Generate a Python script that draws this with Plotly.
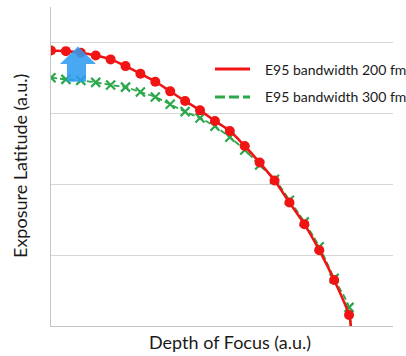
import plotly.graph_objects as go

# ---- data ----
dof = list(range(21))
el_200 = [3.887, 3.877, 3.855, 3.817, 3.761, 3.666, 3.559, 3.446, 3.310, 3.173, 3.042,
          2.892, 2.751, 2.539, 2.306, 2.052, 1.742, 1.437, 1.070, 0.648, 0.155]
el_300 = [3.503, 3.479, 3.465, 3.437, 3.399, 3.370, 3.300, 3.230, 3.127, 3.024, 2.934,
          2.817, 2.662, 2.483, 2.272, 2.070, 1.775, 1.469, 1.117, 0.672, 0.263]
# where each curve meets the x axis
end_dof_200, end_el_200 = 20.12, 0.0
end_dof_300, end_el_300 = 20.10, 0.0
names = ["E95 bandwidth 200 fm", "E95 bandwidth 300 fm"]
x_title = "Depth of Focus (a.u.)"
y_title = "Exposure Latitude (a.u.)"

RED = "#f01414"
GREEN = "#2aa84a"
FONT = "Lato"
TXT = "#1a1a1a"

fig = go.Figure()
# green (drawn first, beneath red)
fig.add_trace(go.Scatter(x=dof + [end_dof_300], y=el_300 + [end_el_300], mode="lines",
                         line=dict(color=GREEN, width=1.8, dash="6px,3px", shape="spline"),
                         showlegend=False, hoverinfo="skip"))
fig.add_trace(go.Scatter(x=dof, y=el_300, mode="markers",
                         marker=dict(symbol="x-thin", size=9, line=dict(color=GREEN, width=2.2)),
                         showlegend=False))
fig.add_trace(go.Scatter(x=dof + [end_dof_200], y=el_200 + [end_el_200], mode="lines",
                         line=dict(color=RED, width=2.6, shape="spline"),
                         showlegend=False, hoverinfo="skip"))
fig.add_trace(go.Scatter(x=dof, y=el_200, mode="markers",
                         marker=dict(symbol="circle", size=10, color=RED),
                         showlegend=False))

# blue up arrow
arrow_path = "M 1.81 3.944 L 3.02 3.697 L 2.35 3.697 L 2.35 3.444 L 1.07 3.444 L 1.07 3.697 L 0.60 3.697 Z"
fig.add_shape(type="path", path=arrow_path, xref="x", yref="y",
              fillcolor="#2f9cf0", line=dict(width=0), opacity=0.88, layer="above")

# legend (drawn manually)
fig.add_shape(type="line", xref="paper", yref="paper", x0=0.4795, x1=0.5819, y0=0.8056, y1=0.8056,
              line=dict(color=RED, width=3))
fig.add_shape(type="line", xref="paper", yref="paper", x0=0.4795, x1=0.5819, y0=0.7179, y1=0.7179,
              line=dict(color=GREEN, width=3, dash="10px,4px"))
fig.add_annotation(x=0.6199, y=0.8056, xref="paper", yref="paper", text=names[0], showarrow=False,
                   xanchor="left", yanchor="middle", font=dict(family=FONT, size=14, color=TXT))
fig.add_annotation(x=0.6199, y=0.7179, xref="paper", yref="paper", text=names[1], showarrow=False,
                   xanchor="left", yanchor="middle", font=dict(family=FONT, size=14, color=TXT))

# axis titles
fig.add_annotation(x=0.523, y=-0.050, xref="paper", yref="paper", text=x_title, showarrow=False,
                   xanchor="center", yanchor="middle", font=dict(family=FONT, size=18, color=TXT))
fig.add_annotation(x=-0.0906, y=0.5016, xref="paper", yref="paper", text=y_title, showarrow=False,
                   textangle=-90, xanchor="center", yanchor="middle",
                   font=dict(family=FONT, size=18, color=TXT))

fig.update_xaxes(range=[0, 22.95], showgrid=False, zeroline=False, showticklabels=False,
                 ticks="", showline=True, linecolor="#c4c4c4", linewidth=1.2)
fig.update_yaxes(range=[0, 4.5], dtick=1, showgrid=True, gridcolor="#d6d6d6", gridwidth=1,
                 zeroline=False, showticklabels=False, ticks="", showline=True,
                 linecolor="#c4c4c4", linewidth=1.2)
fig.update_layout(width=406, height=356, margin=dict(l=51, r=13, t=7, b=30),
                  paper_bgcolor="white", plot_bgcolor="white", showlegend=False)
fig.write_html("out.html")
